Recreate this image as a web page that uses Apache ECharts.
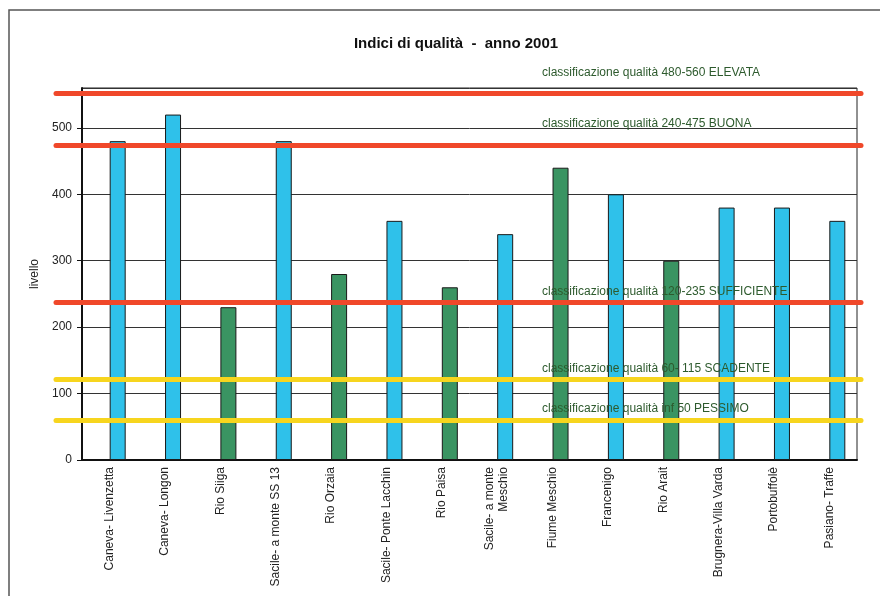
<!DOCTYPE html>
<html>
<head>
<meta charset="utf-8">
<script src="https://cdn.jsdelivr.net/npm/echarts@6/dist/echarts.min.js"></script>
<style>
  html, body { margin: 0; padding: 0; background: #fff; }
  #chart { width: 880px; height: 596px; }
</style>
</head>
<body>
<div id="chart"></div>
<script>
// stazioni di campionamento
const stations = [
  'Caneva- Livenzetta', 'Caneva- Longon', 'Rio Siiga', 'Sacile- a monte SS 13',
  'Rio Orzaia', 'Sacile- Ponte Lacchin', 'Rio Paisa', 'Sacile- a monte\nMeschio',
  'Fiume Meschio', 'Francenigo', 'Rio Arait', 'Brugnera-Villa Varda',
  'Portobuffolè', 'Pasiano- Traffe'
]
// indice per stazione, blu = stazioni sul fiume, verde = affluenti
const blueValues = [480, 520, null, 480, null, 360, null, 340, null, 400, null, 380, 380, 360]
const greenValues = [null, null, 230, null, 280, null, 260, null, 440, null, 300, null, null, null]
const yTicks = [0, 100, 200, 300, 400, 500]

// soglie di classificazione
const thresholdValues = [552, 474, 238, 122, 60]
const thresholdLabels = [
  'classificazione qualità 480-560 ELEVATA',
  'classificazione qualità 240-475 BUONA',
  'classificazione qualità 120-235 SUFFICIENTE',
  'classificazione qualità 60- 115 SCADENTE',
  'classificazione qualità inf 50 PESSIMO'
]
const thresholdColors = ['#f0482a', '#f0482a', '#f0482a', '#f7d51e', '#f7d51e']
const labelLift = [15, 15, 4, 4, 5]

const yMax = 560
const font = 'Liberation Sans, Arial, sans-serif'

const chart = echarts.init(document.getElementById('chart'))

chart.setOption({
  animation: false,
  title: {
    text: 'Indici di qualità  -  anno 2001',
    left: 451,
    top: 31,
    textAlign: 'center',
    textStyle: { fontFamily: font, fontSize: 15, fontWeight: 'bold', color: '#111' }
  },
  graphic: [{
    type: 'rect',
    shape: { x: 9, y: 10, width: 900, height: 700 },
    style: { fill: 'none', stroke: '#555', lineWidth: 1.5 },
    silent: true
  }],
  grid: [
    // frame, gridlines, axis labels
    { left: 82, right: 23, top: 88, bottom: 136, show: true, borderColor: '#222', borderWidth: 1 },
    // bars (shifted a little to the right, as in the original)
    { left: 90, right: 15, top: 88, bottom: 136 },
    // threshold lines, wider than the plot
    { left: 56, right: 19, top: 88, bottom: 136 }
  ],
  xAxis: [
    {
      gridIndex: 0,
      type: 'category',
      data: stations,
      axisLine: { lineStyle: { color: '#111', width: 2 } },
      axisTick: { show: false },
      axisLabel: {
        rotate: 90,
        interval: 0,
        margin: 7,
        fontFamily: font,
        fontSize: 12,
        lineHeight: 14,
        color: '#222'
      }
    },
    { gridIndex: 1, type: 'category', data: stations, show: false },
    { gridIndex: 2, type: 'category', data: stations, show: false }
  ],
  yAxis: [
    {
      gridIndex: 0,
      type: 'value',
      min: 0,
      max: yMax,
      interval: 100,
      name: 'livello',
      nameLocation: 'middle',
      nameGap: 40,
      nameRotate: 90,
      nameTextStyle: { fontFamily: font, fontSize: 12, color: '#222' },
      axisLine: { show: true, lineStyle: { color: '#111', width: 2 } },
      axisTick: { show: true, length: 5, lineStyle: { color: '#111' } },
      axisLabel: {
        margin: 10,
        fontFamily: font,
        fontSize: 12,
        color: '#222',
        showMaxLabel: false,
        formatter: v => (yTicks.indexOf(v) >= 0 ? String(v) : '')
      },
      splitLine: { show: true, lineStyle: { color: '#333', width: 1 } }
    },
    { gridIndex: 1, type: 'value', min: 0, max: yMax, show: false, splitLine: { show: false } },
    { gridIndex: 2, type: 'value', min: 0, max: yMax, show: false, splitLine: { show: false } }
  ],
  series: [
    {
      name: 'fiume',
      type: 'bar',
      xAxisIndex: 1,
      yAxisIndex: 1,
      data: blueValues,
      barWidth: 16,
      barGap: '-100%',
      itemStyle: { color: '#2fc1ea', borderColor: '#1a1a1a', borderWidth: 1 }
    },
    {
      name: 'affluenti',
      type: 'bar',
      xAxisIndex: 1,
      yAxisIndex: 1,
      data: greenValues,
      barWidth: 16,
      barGap: '-100%',
      itemStyle: { color: '#3a9462', borderColor: '#1a1a1a', borderWidth: 1 }
    },
    {
      name: 'soglie',
      type: 'line',
      xAxisIndex: 2,
      yAxisIndex: 2,
      data: [],
      markLine: {
        silent: true,
        symbol: ['none', 'none'],
        data: thresholdValues.map((v, i) => ({
          yAxis: v,
          lineStyle: { color: thresholdColors[i], width: 5, type: 'solid', cap: 'round' },
          label: {
            show: true,
            position: 'insideStartTop',
            distance: [486, labelLift[i]],
            formatter: thresholdLabels[i],
            fontFamily: font,
            fontSize: 12,
            color: '#2d5a2d'
          }
        }))
      }
    }
  ]
})
</script>
</body>
</html>
